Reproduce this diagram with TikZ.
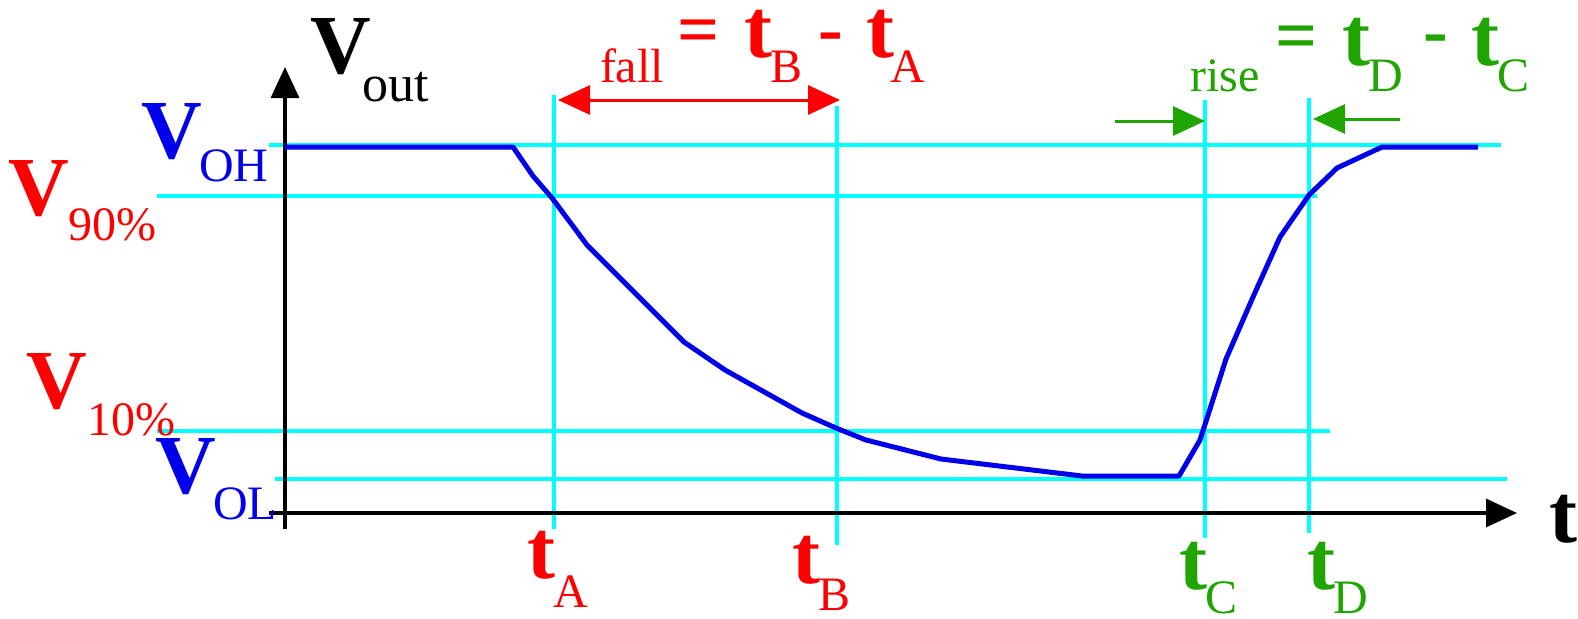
\documentclass[tikz,border=0pt]{standalone}
\usepackage{fontspec}
\setmainfont{Liberation Serif}
\usetikzlibrary{arrows.meta}
\definecolor{myred}{RGB}{255,0,0}
\definecolor{myblue}{RGB}{0,0,235}
\definecolor{mygreen}{RGB}{32,165,0}
\definecolor{mycyan}{RGB}{0,255,255}
\begin{document}
\begin{tikzpicture}[x=1pt,y=-1pt,
  guide/.style={mycyan, line width=3.2pt},
  curve/.style={myblue, line width=5pt, line join=round},
  axisline/.style={black, line width=3.2pt},
  tipA/.style={-{Triangle[length=31pt,width=28pt]}},
  lbl/.style={inner sep=0pt, outer sep=0pt, anchor=base west},
  lbig/.style={lbl, font=\fontsize{84}{90}\selectfont\bfseries},
  lsub/.style={lbl, font=\fontsize{48}{52}\selectfont},
  lmid/.style={inner sep=0pt, outer sep=0pt, anchor=center, font=\fontsize{74}{80}\selectfont\bfseries}]
\useasboundingbox (0,0) rectangle (1578,618);
\fill[white] (0,0) rectangle (1578,618);

% guide line end points
\coordinate (ohL) at (269,145);  \coordinate (ohR) at (1501,145);
\coordinate (n9L) at (157,196);  \coordinate (n9R) at (1317,196);
\coordinate (t1L) at (157,431);  \coordinate (t1R) at (1330,431);
\coordinate (olL) at (275,479);  \coordinate (olR) at (1507,479);
\coordinate (aT) at (554,95);    \coordinate (aB) at (554,529);
\coordinate (bT) at (837,106);   \coordinate (bB) at (837,545);
\coordinate (cT) at (1205,100);  \coordinate (cB) at (1205,538);
\coordinate (dT) at (1309,98);   \coordinate (dB) at (1309,533);

\draw[guide] (ohL) -- (ohR);
\draw[guide] (n9L) -- (n9R);
\draw[guide] (t1L) -- (t1R);
\draw[guide] (olL) -- (olR);
\draw[guide] (aT) -- (aB);
\draw[guide] (bT) -- (bB);
\draw[guide] (cT) -- (cB);
\draw[guide] (dT) -- (dB);

% axes
\coordinate (yb) at (285,529);
\coordinate (yt) at (285,67);
\coordinate (xl) at (269,513);
\coordinate (xr) at (1517,513);
\draw[axisline, tipA] (yb) -- (yt);
\draw[axisline, tipA] (xl) -- (xr);

% waveform
\draw[curve] (285,147) -- (513,147) -- (533,176) -- (552,198) -- (587,245)
  -- (684,342) -- (725,370) -- (802,413) -- (836,428) -- (866,440)
  -- (941,459) -- (1082,476) -- (1179,476) -- (1200,440) -- (1226,359)
  -- (1253,297) -- (1280,237) -- (1309,195) -- (1337,168) -- (1382,147)
  -- (1478,147);

% fall / rise arrows
\coordinate (fA) at (558,100); \coordinate (fB) at (840,100);
\draw[myred, line width=3pt, {Triangle[length=32pt,width=29pt]}-{Triangle[length=32pt,width=29pt]}] (fA) -- (fB);
\coordinate (r1s) at (1115,121); \coordinate (r1e) at (1205,121);
\coordinate (r2s) at (1400,119); \coordinate (r2e) at (1313,119);
\draw[mygreen, line width=3pt, -{Triangle[length=32pt,width=29pt]}] (r1s) -- (r1e);
\draw[mygreen, line width=3pt, -{Triangle[length=32pt,width=29pt]}] (r2s) -- (r2e);

% axis labels
\node[lbig, black] (vout) at (310,74) {V};
\node[lsub, black, font=\fontsize{52}{56}\selectfont] (voutsub) at (362,101) {out};
\node[lbig, black] (tax) at (1549,542) {t};

% voltage labels
\node[lbig, myblue] (voh) at (141,158) {V};
\node[lsub, myblue] (vohsub) at (199,181) {OH};
\node[lbig, myred] (v90) at (9,215) {V};
\node[lsub, myred] (v90sub) at (68,240) {90\%};
\node[lbig, myred] (v10) at (27,408) {V};
\node[lsub, myred] (v10sub) at (87,435) {10\%};
\node[lbig, myblue] (vol) at (155,493) {V};
\node[lsub, myblue] (volsub) at (213,519) {OL};

% time labels
\node[lbig, myred] (ta) at (527,578) {t};
\node[lsub, myred] (tasub) at (553,607) {A};
\node[lbig, myred] (tb) at (792,583) {t};
\node[lsub, myred] (tbsub) at (818,610) {B};
\node[lbig, mygreen] (tc) at (1179,589) {t};
\node[lsub, mygreen] (tcsub) at (1205,613) {C};
\node[lbig, mygreen] (td) at (1307,589) {t};
\node[lsub, mygreen] (tdsub) at (1333,613) {D};

% fall formula
\node[lsub, myred] (fall) at (600,82) {fall};
\node[lmid, myred] (feq) at (699,37) {=};
\node[lbig, myred] (ftb) at (744,57) {t};
\node[lsub, myred] (ftbs) at (770,82) {B};
\node[lmid, myred] (fmin) at (831,43) {-};
\node[lbig, myred] (fta) at (866,57) {t};
\node[lsub, myred] (ftas) at (890,82) {A};

% rise formula
\node[lsub, mygreen] (rise) at (1190,91) {rise};
\node[lmid, mygreen] (req) at (1297,43) {=};
\node[lbig, mygreen] (rtd) at (1342,65) {t};
\node[lsub, mygreen] (rtds) at (1368,91) {D};
\node[lmid, mygreen] (rmin) at (1436,45) {-};
\node[lbig, mygreen] (rtc) at (1471,65) {t};
\node[lsub, mygreen] (rtcs) at (1497,91) {C};
\end{tikzpicture}
\end{document}
